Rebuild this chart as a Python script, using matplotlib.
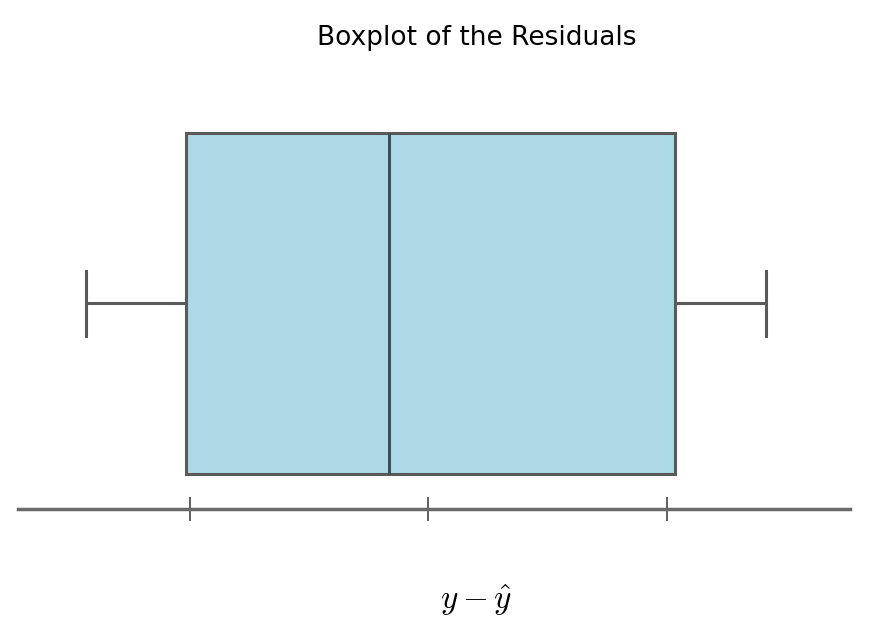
import matplotlib
matplotlib.use("Agg")
import matplotlib.pyplot as plt

# residual summary (no tick labels shown in the source, units are arbitrary)
whislo  = -1.434
q1      = -1.015
median  = -0.164
q3      = 1.036
whishi  = 1.417
ticks   = [-1.0, 0.0, 1.0]

BOX   = "#add8e6"
EDGE  = "#5a5a5a"

plt.rcParams["mathtext.fontset"] = "cm"

fig = plt.figure(figsize=(8.72, 6.41), dpi=100)
ax = fig.add_axes([18 / 872, 132 / 641, 832 / 872, 409 / 641])

stats = [{"whislo": whislo, "q1": q1, "med": median, "q3": q3,
          "whishi": whishi, "fliers": []}]
ax.bxp(stats, positions=[1], widths=1.0, vert=False, patch_artist=True,
       showfliers=False,
       boxprops=dict(facecolor=BOX, edgecolor=EDGE, lw=2.2),
       medianprops=dict(color="#3d4f57", lw=2.2),
       whiskerprops=dict(color=EDGE, lw=2.2),
       capprops=dict(color=EDGE, lw=2.2),
       capwidths=0.19)

ax.set_xlim(-1.719, 1.769)
ax.set_ylim(0.397, 1.597)
for side in ("left", "top", "right"):
    ax.spines[side].set_visible(False)
ax.spines["bottom"].set_color("#6a6a6a")
ax.spines["bottom"].set_linewidth(2.5)
ax.set_yticks([])
ax.set_xticks(ticks)
ax.set_xticklabels([])
ax.tick_params(axis="x", direction="inout", length=17, width=1.2, color="#444444")

fig.text(477 / 872, 1 - 38 / 641, "Boxplot of the Residuals",
         ha="center", va="center", fontsize=19, family="DejaVu Sans")
fig.text(476 / 872, 1 - 600 / 641, r"$y - \hat{y}$",
         ha="center", va="center", fontsize=24)

fig.savefig("out.png", dpi=100, facecolor="white")
